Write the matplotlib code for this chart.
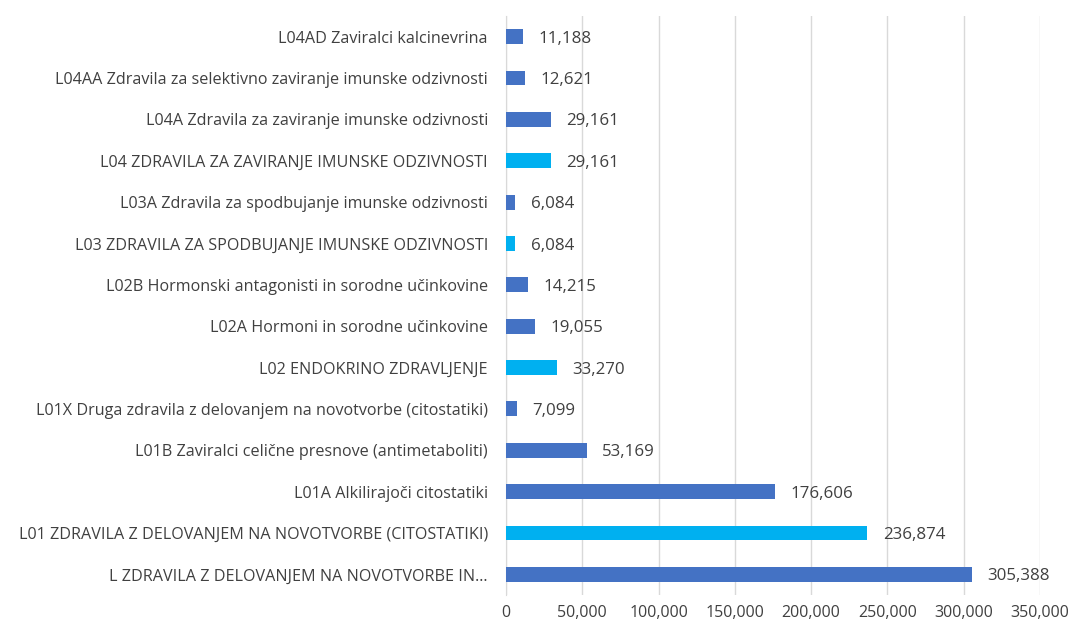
import matplotlib
matplotlib.use("Agg")
import matplotlib.pyplot as plt
from matplotlib.ticker import FuncFormatter

# kategorije od vrha navzdol
categories = [
    "L04AD Zaviralci kalcinevrina",
    "L04AA Zdravila za selektivno zaviranje imunske odzivnosti",
    "L04A Zdravila za zaviranje imunske odzivnosti",
    "L04 ZDRAVILA ZA ZAVIRANJE IMUNSKE ODZIVNOSTI",
    "L03A Zdravila za spodbujanje imunske odzivnosti",
    "L03 ZDRAVILA ZA SPODBUJANJE IMUNSKE ODZIVNOSTI",
    "L02B Hormonski antagonisti in sorodne učinkovine",
    "L02A Hormoni in sorodne učinkovine",
    "L02 ENDOKRINO ZDRAVLJENJE",
    "L01X Druga zdravila z delovanjem na novotvorbe (citostatiki)",
    "L01B Zaviralci celične presnove (antimetaboliti)",
    "L01A Alkilirajoči citostatiki",
    "L01 ZDRAVILA Z DELOVANJEM NA NOVOTVORBE (CITOSTATIKI)",
    "L ZDRAVILA Z DELOVANJEM NA NOVOTVORBE IN…",
]
values = [11188, 12621, 29161, 29161, 6084, 6084, 14215, 19055, 33270,
          7099, 53169, 176606, 236874, 305388]
is_level2 = [False, False, False, True, False, True, False, False, True,
             False, False, False, True, False]

DARK = "#4472C4"
LIGHT = "#00B0F0"
TXT = "#404040"

plt.rcParams["font.family"] = ["Open Sans", "DejaVu Sans"]

fig = plt.figure(figsize=(10.71, 6.28), dpi=100)
ax = fig.add_axes([0.4725, 0.0525, 0.4985, 0.922])

n = len(categories)
ypos = list(range(n))[::-1]
colors = [LIGHT if l2 else DARK for l2 in is_level2]
ax.barh(ypos, values, height=0.36, color=colors, zorder=3)

for y, v in zip(ypos, values):
    ax.annotate(f"{v:,}", (v, y), xytext=(11, -1.5), textcoords="offset points",
                va="center", ha="left", fontsize=12.2, color=TXT)

ax.set_yticks(ypos)
ax.set_yticklabels(categories, fontsize=11.6, color=TXT)
ax.set_ylim(-0.5, n - 0.5)
ax.set_xlim(0, 350000)
ax.set_xticks(range(0, 350001, 50000))
ax.xaxis.set_major_formatter(FuncFormatter(lambda x, _: f"{int(x):,}"))
ax.tick_params(axis="x", labelsize=11.5, colors=TXT, length=0, pad=7)
ax.tick_params(axis="y", length=0, pad=13)

ax.grid(axis="x", color="#D9D9D9", linewidth=1, zorder=0)
for s in ["top", "right", "bottom"]:
    ax.spines[s].set_visible(False)
ax.spines["left"].set_color("#D9D9D9")
ax.spines["left"].set_zorder(1)

fig.savefig("out.png", dpi=100)
